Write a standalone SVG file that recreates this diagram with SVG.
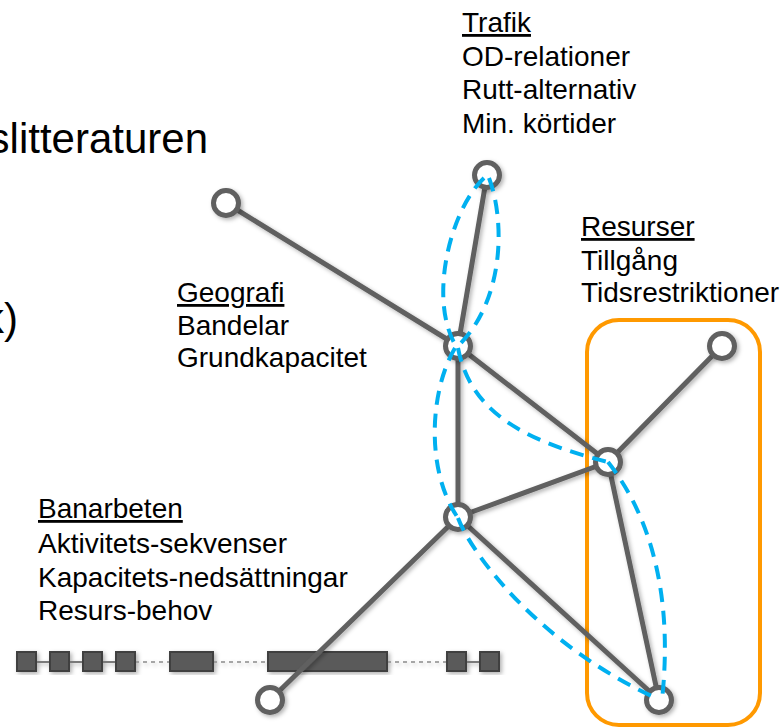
<svg xmlns="http://www.w3.org/2000/svg" width="784" height="727" viewBox="0 0 784 727">
<defs>
<style>
.t{font-family:"Liberation Sans",Arial,sans-serif;font-size:28px;fill:#000}
.big{font-family:"Liberation Sans",Arial,sans-serif;font-size:42px;fill:#000}
.u{text-decoration:underline}
.e{stroke:#606060;stroke-width:5;fill:none;stroke-linecap:round}
.n{fill:#fff;stroke:#606060;stroke-width:5}
.d{stroke:#00b0f0;stroke-width:4;fill:none;stroke-dasharray:14 9}
.blk{fill:#5a5a5a;stroke:#404040;stroke-width:2}
</style>
<filter id="sh" x="-20%" y="-20%" width="140%" height="140%">
<feDropShadow dx="2" dy="2" stdDeviation="2" flood-color="#000" flood-opacity="0.3"/>
</filter>
</defs>
<rect width="784" height="727" fill="#fff"/>
<text class="big" x="208" y="153" text-anchor="end">slitteraturen</text>
<text class="big" x="18" y="333" text-anchor="end">k)</text>

<g id="strip" filter="url(#sh)">
<line x1="26" y1="662" x2="135" y2="662" stroke="#7a7a7a" stroke-width="2"/>
<line x1="135" y1="662" x2="170" y2="662" stroke="#8a8a8a" stroke-width="1.5" stroke-dasharray="4 4"/>
<line x1="213" y1="662" x2="268" y2="662" stroke="#8a8a8a" stroke-width="1.5" stroke-dasharray="4 4"/>
<line x1="387" y1="662" x2="447" y2="662" stroke="#8a8a8a" stroke-width="1.5" stroke-dasharray="4 4"/>
<line x1="466" y1="662" x2="480" y2="662" stroke="#7a7a7a" stroke-width="2"/>
<rect class="blk" x="17" y="652" width="19" height="19"/>
<rect class="blk" x="50" y="652" width="19" height="19"/>
<rect class="blk" x="83" y="652" width="19" height="19"/>
<rect class="blk" x="116" y="652" width="19" height="19"/>
<rect class="blk" x="170" y="652" width="43" height="19"/>
<rect class="blk" x="268" y="652" width="119" height="19"/>
<rect class="blk" x="447" y="652" width="19" height="19"/>
<rect class="blk" x="480" y="652" width="19" height="19"/>
</g>

<rect id="resurs-box" x="587" y="320" width="173" height="405" rx="32" fill="none" stroke="#ff9900" stroke-width="4"/>

<g id="edges" filter="url(#sh)">
<line class="e" x1="226" y1="203" x2="458" y2="346"/>
<line class="e" x1="487" y1="175" x2="458" y2="346"/>
<line class="e" x1="458" y1="346" x2="458" y2="517"/>
<line class="e" x1="458" y1="346" x2="608" y2="462"/>
<line class="e" x1="608" y1="462" x2="722" y2="346"/>
<line class="e" x1="608" y1="462" x2="458" y2="517"/>
<line class="e" x1="608" y1="462" x2="659" y2="700"/>
<line class="e" x1="458" y1="517" x2="659" y2="700"/>
<line class="e" x1="458" y1="517" x2="270" y2="700"/>
</g>

<g id="nodes" filter="url(#sh)">
<g id="n-left"><circle class="n" cx="226" cy="203" r="12.5"/></g>
<g id="n-trafik"><circle class="n" cx="487" cy="175" r="12.5"/></g>
<g id="n-geo"><circle class="n" cx="458" cy="346" r="12.5"/></g>
<g id="n-res"><circle class="n" cx="608" cy="462" r="12.5"/></g>
<g id="n-rtop"><circle class="n" cx="722" cy="346" r="12.5"/></g>
<g id="n-ban"><circle class="n" cx="458" cy="517" r="12.5"/></g>
<g id="n-bot"><circle class="n" cx="270" cy="700" r="12.5"/></g>
<g id="n-brt"><circle class="n" cx="659" cy="700" r="12.5"/></g>
</g>

<g id="route">
<path class="d" d="M484,178 C450,210 428,300 456,346"/>
<path class="d" d="M489,178 C505,220 505,300 458,346"/>
<path class="d" d="M455,348 C430,390 425,470 458,518"/>
<path class="d" d="M458,348 C470,410 520,440 608,462"/>
<path class="d" d="M608,462 C642,505 675,580 662,700"/>
<path class="d" d="M458,518 C472,555 540,645 656,698"/>
</g>

<g id="label-trafik">
<text class="t u" x="462" y="32">Trafik</text>
<text class="t" x="462" y="66">OD-relationer</text>
<text class="t" x="462" y="99">Rutt-alternativ</text>
<text class="t" x="462" y="133">Min. körtider</text>
</g>
<g id="label-resurser">
<text class="t u" x="581" y="236">Resurser</text>
<text class="t" x="581" y="270">Tillgång</text>
<text class="t" x="581" y="302">Tidsrestriktioner</text>
</g>
<g id="label-geografi">
<text class="t u" x="177" y="302">Geografi</text>
<text class="t" x="177" y="335">Bandelar</text>
<text class="t" x="177" y="367">Grundkapacitet</text>
</g>
<g id="label-banarbeten">
<text class="t u" x="38" y="518">Banarbeten</text>
<text class="t" x="38" y="553">Aktivitets-sekvenser</text>
<text class="t" x="38" y="587">Kapacitets-nedsättningar</text>
<text class="t" x="38" y="620">Resurs-behov</text>
</g>
</svg>
